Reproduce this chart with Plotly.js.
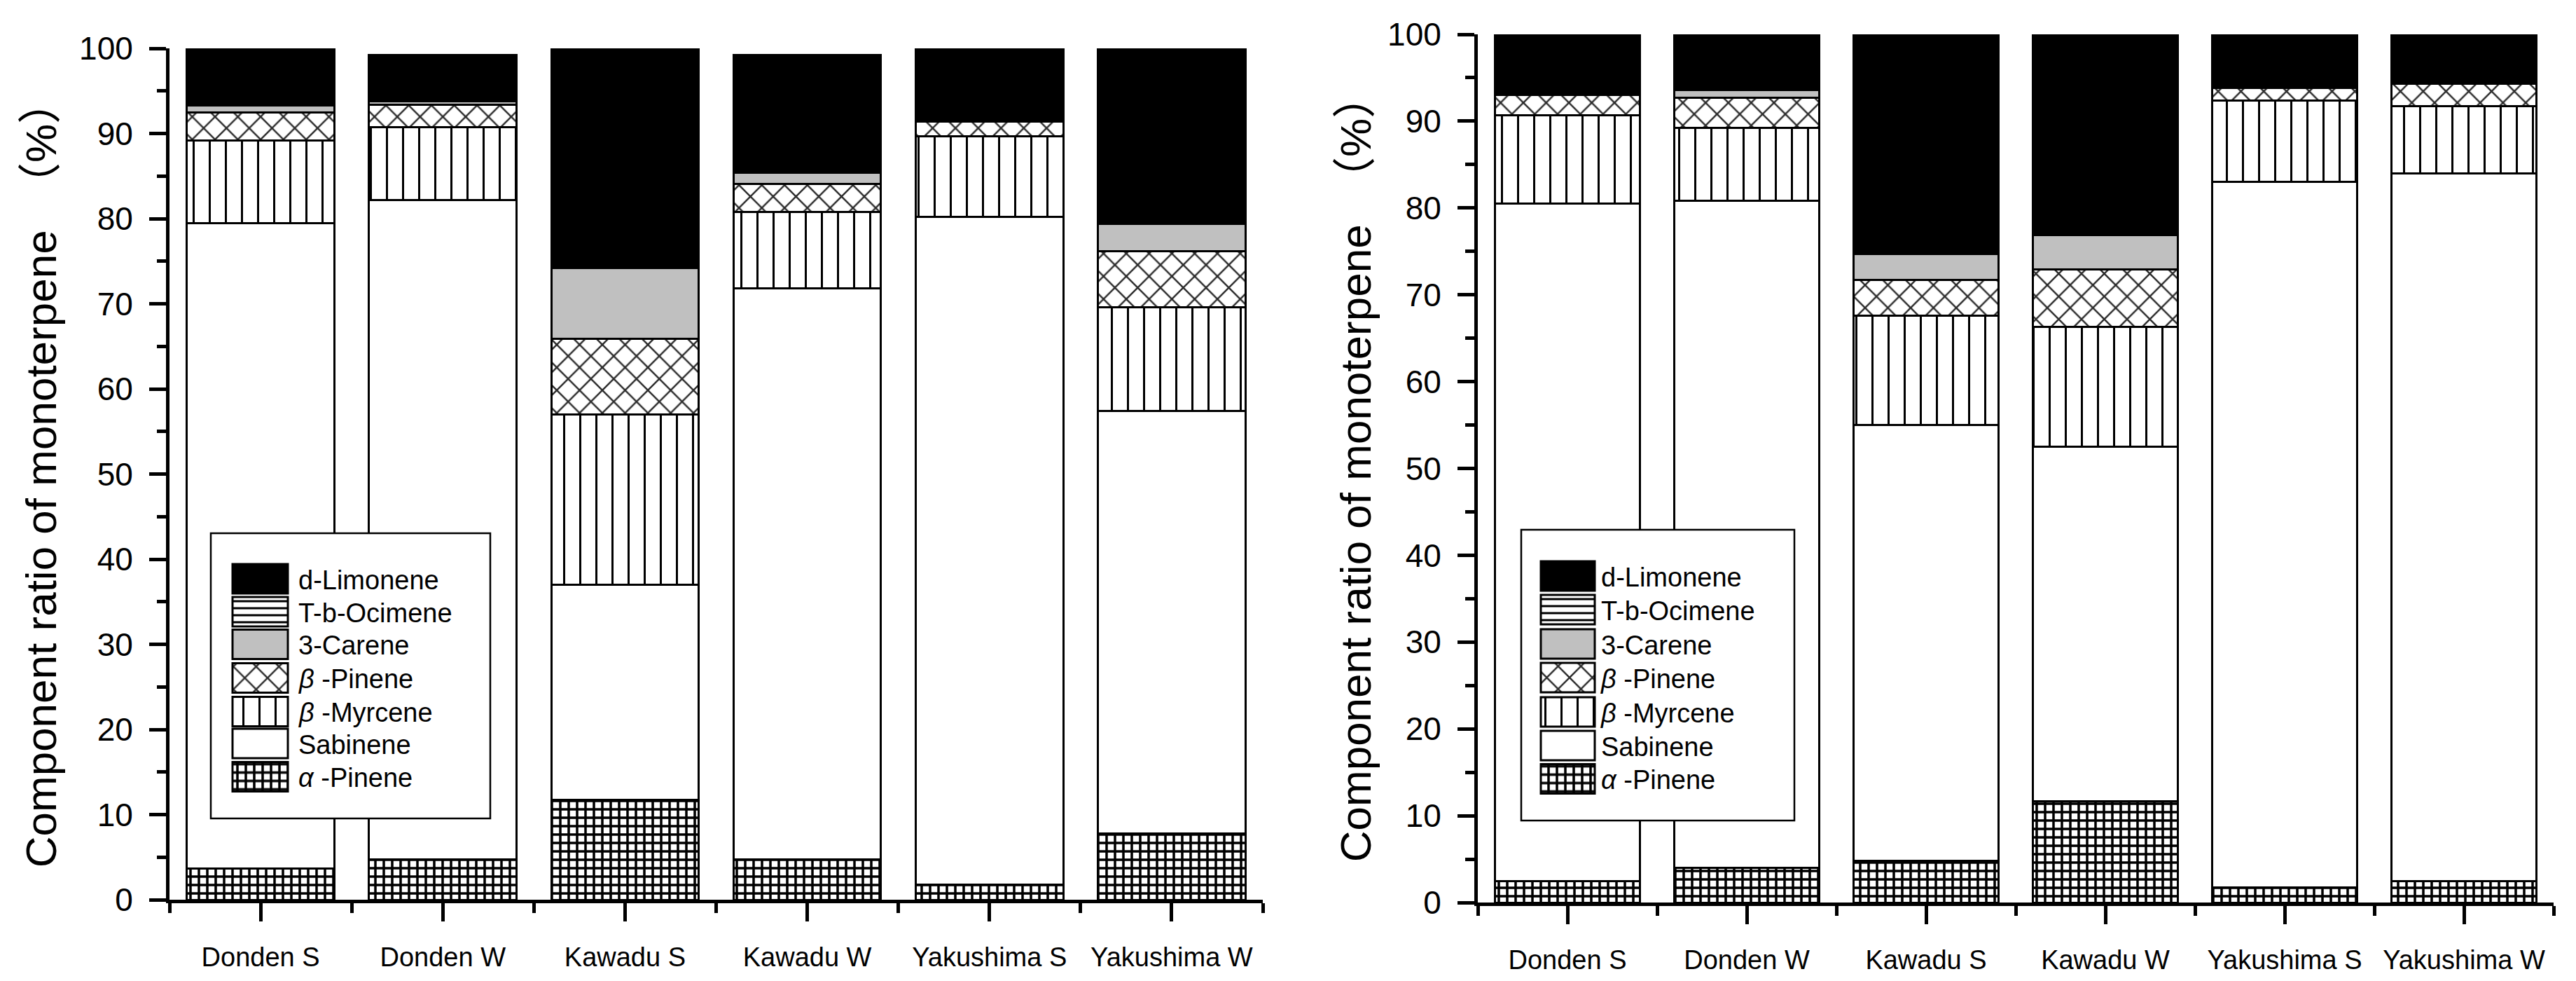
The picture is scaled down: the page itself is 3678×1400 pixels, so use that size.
<!DOCTYPE html>
<html>
<head>
<meta charset="utf-8">
<script src="https://cdn.plot.ly/plotly-3.0.1.min.js"></script>
<style>
  html, body { margin: 0; padding: 0; background: #ffffff; }
  #plot { width: 3678px; height: 1400px; }
</style>
</head>
<body>
<div id="plot"></div>
<script>
// ---------- data ----------
const categories = ['Donden S', 'Donden W', 'Kawadu S', 'Kawadu W', 'Yakushima S', 'Yakushima W'];
const seriesNames = ['<i>α</i> -Pinene', 'Sabinene', '<i>β</i> -Myrcene', '<i>β</i> -Pinene', '3-Carene', 'T-b-Ocimene', 'd-Limonene'];

// left panel
const aPineneA  = [3.7, 4.7, 11.7, 4.7, 1.8, 7.8];
const sabineneA = [75.8, 77.5, 25.3, 67.1, 78.4, 49.6];
const myrceneA  = [9.7, 8.5, 20.0, 9.0, 9.5, 12.2];
const bPineneA  = [3.3, 2.7, 8.9, 3.3, 1.7, 6.6];
const careneA   = [0.8, 0.4, 8.3, 1.3, 0.0, 3.2];
const ocimeneA  = [0, 0, 0, 0, 0, 0];
const limoneneA = [6.7, 5.4, 25.8, 13.8, 8.6, 20.6];

// right panel
const aPineneB  = [2.5, 4.0, 4.8, 11.7, 1.7, 2.5];
const sabineneB = [78.0, 76.8, 50.2, 40.8, 81.3, 81.5];
const myrceneB  = [10.2, 8.4, 12.6, 13.8, 9.4, 7.7];
const bPineneB  = [2.3, 3.5, 4.1, 6.6, 1.4, 2.6];
const careneB   = [0.3, 0.9, 3.0, 4.0, 0.0, 0.0];
const ocimeneB  = [0, 0, 0, 0, 0, 0];
const limoneneB = [6.7, 6.4, 25.3, 23.1, 6.2, 5.7];

const yTitle = 'Component ratio of monoterpene\u00A0\u00A0（%）';
const yTickVals = [0, 10, 20, 30, 40, 50, 60, 70, 80, 90, 100];

// ---------- styles ----------
const W = 3678, H = 1400;
const NARROW = "'Liberation Sans Narrow', 'Arial Narrow', 'Liberation Sans', Arial, sans-serif";
const SANS = "'Liberation Sans', Arial, 'Noto Sans CJK JP', sans-serif";

const styles = [
  { color: '#ffffff', pattern: { shape: '+', size: 12, solidity: 0.5, fgcolor: '#000000', bgcolor: '#ffffff' } },
  { color: '#ffffff' },
  { color: '#ffffff', pattern: { shape: '|', size: 23, solidity: 0.13, fgcolor: '#000000', bgcolor: '#ffffff' } },
  { color: '#ffffff', pattern: { shape: 'x', size: 23, solidity: 0.2, fgcolor: '#2a2a2a', bgcolor: '#ffffff' } },
  { color: '#c0c0c0' },
  { color: '#ffffff', pattern: { shape: '-', size: 10, solidity: 0.3, fgcolor: '#000000', bgcolor: '#ffffff' } },
  { color: '#000000' }
];

const xIdx = categories.map((c, i) => i);

function makeTraces(seriesList, xa, ya, legendId) {
  return seriesList.map((vals, k) => {
    const m = { color: styles[k].color, line: { color: '#000000', width: 3 } };
    if (styles[k].pattern) m.pattern = styles[k].pattern;
    return {
      type: 'bar', x: xIdx, y: vals, name: seriesNames[k],
      xaxis: xa, yaxis: ya, legend: legendId,
      width: 0.81, marker: m, hoverinfo: 'skip'
    };
  });
}

const data = [].concat(
  makeTraces([aPineneA, sabineneA, myrceneA, bPineneA, careneA, ocimeneA, limoneneA], 'x', 'y', 'legend'),
  makeTraces([aPineneB, sabineneB, myrceneB, bPineneB, careneB, ocimeneB, limoneneB], 'x2', 'y2', 'legend2')
);

function xAxis(domain, anchor) {
  return {
    domain: domain, anchor: anchor, range: [-0.5, 5.5], type: 'linear',
    tickvals: xIdx, ticktext: categories, tickangle: 0,
    ticks: 'outside', ticklen: 26, tickwidth: 5, tickcolor: '#000000',
    showline: true, linewidth: 5, linecolor: '#000000',
    showgrid: false, zeroline: false, automargin: false, fixedrange: true,
    tickfont: { family: NARROW, size: 38, color: '#000000' },
    ticklabelstandoff: 18,
    minor: { tick0: -0.5, dtick: 1, ticks: 'outside', ticklen: 14, tickwidth: 5, tickcolor: '#000000', showgrid: false }
  };
}
function yAxis(domain, anchor, standoff) {
  return {
    domain: domain, anchor: anchor, range: [0, 100], type: 'linear',
    tickvals: yTickVals,
    ticks: 'outside', ticklen: 24, tickwidth: 5, tickcolor: '#000000',
    showline: true, linewidth: 5, linecolor: '#000000',
    showgrid: false, zeroline: false, automargin: false, fixedrange: true,
    tickfont: { family: NARROW, size: 46, color: '#000000' },
    ticklabelstandoff: 14,
    minor: { tick0: 0, dtick: 5, ticks: 'outside', ticklen: 13, tickwidth: 5, tickcolor: '#000000', showgrid: false },
    title: { text: yTitle, font: { family: SANS, size: 62, color: '#000000' }, standoff: standoff }
  };
}

const legendFont = { family: SANS, size: 38, color: '#000000' };
const layout = {
  width: W, height: H, autosize: false,
  margin: { l: 0, r: 0, t: 0, b: 0, pad: 0 },
  paper_bgcolor: '#ffffff', plot_bgcolor: '#ffffff',
  barmode: 'stack', showlegend: true,
  xaxis: xAxis([242 / W, 1803 / W], 'y'),
  yaxis: yAxis([1 - 1284 / H, 1 - 69 / H], 'x', 14),
  xaxis2: xAxis([2110 / W, 3646 / W], 'y2'),
  yaxis2: yAxis([1 - 1288 / H, 1 - 49 / H], 'x2', 5),
  legend: {
    x: 320 / W, xanchor: 'left', y: 1 - 790 / H, yanchor: 'top',
    traceorder: 'reversed', font: legendFont, bgcolor: 'rgba(0,0,0,0)', borderwidth: 0, itemwidth: 80
  },
  legend2: {
    x: 2190 / W, xanchor: 'left', y: 1 - 790 / H, yanchor: 'top',
    traceorder: 'reversed', font: legendFont, bgcolor: 'rgba(0,0,0,0)', borderwidth: 0, itemwidth: 80
  },
  shapes: [
    { type: 'rect', xref: 'paper', yref: 'paper', layer: 'above',
      x0: 301 / W, x1: 700 / W, y0: 1 - 1168 / H, y1: 1 - 761 / H,
      line: { color: '#000000', width: 2.5 }, fillcolor: '#ffffff' },
    { type: 'rect', xref: 'paper', yref: 'paper', layer: 'above',
      x0: 2172 / W, x1: 2562 / W, y0: 1 - 1171 / H, y1: 1 - 756 / H,
      line: { color: '#000000', width: 2.5 }, fillcolor: '#ffffff' }
  ]
};

const gd = document.getElementById('plot');

function fixLegends() {
  const fills = {};
  gd.querySelectorAll('g.trace.bars').forEach(g => {
    const d = g.__data__;
    const tr = d && d[0] && d[0].trace;
    const p = g.querySelector('path');
    if (tr && p) fills[tr.uid] = p.style.fill || p.getAttribute('fill');
  });
  const specs = [
    { cls: 'legend', textX: 426, swCx: 371.5, rows: [826, 873, 919.5, 967.5, 1015.5, 1061, 1108.5], w: 79, h: 42 },
    { cls: 'legend2', textX: 2296, swCx: 2238.5, rows: [822, 870, 919, 967, 1016, 1064, 1111.5], w: 77, h: 42 }
  ];
  specs.forEach(s => {
    const lg = gd.querySelector('g.' + s.cls);
    if (!lg) return;
    lg.querySelectorAll('[clip-path]').forEach(e => e.removeAttribute('clip-path'));
    const items = Array.from(lg.querySelectorAll('g.traces'));
    items.sort((a, b) => a.getBoundingClientRect().top - b.getBoundingClientRect().top);
    items.forEach((it, i) => {
      const row = s.rows[i];
      if (row === undefined) return;
      const txt = it.querySelector('text.legendtext');
      const ctm = it.getScreenCTM();
      const tl = txt ? txt.getBoundingClientRect().left : ctm.e + 100;
      const dx = s.textX - tl;
      const dy = row - ctm.f;
      const tf = it.getAttribute('transform') || '';
      const m = tf.match(/translate\(\s*([-\d.eE]+)[ ,]+([-\d.eE]+)\s*\)/);
      let tx = 0, ty = 0;
      if (m) { tx = parseFloat(m[1]); ty = parseFloat(m[2]); }
      it.setAttribute('transform', 'translate(' + (tx + dx) + ',' + (ty + dy) + ')');
      const dd = it.__data__;
      const tr = (dd && dd[0] && dd[0].trace) || (dd && dd[0] && dd[0][0] && dd[0][0].trace);
      it.querySelectorAll('g.legendpoints path').forEach(p => {
        const pc = p.getScreenCTM();
        const cx = s.swCx - pc.e, cy = row - pc.f;
        const x0 = cx - s.w / 2, x1 = cx + s.w / 2, y0 = cy - s.h / 2, y1 = cy + s.h / 2;
        p.setAttribute('d', 'M' + x0 + ',' + y0 + 'H' + x1 + 'V' + y1 + 'H' + x0 + 'Z');
        if (tr && fills[tr.uid]) p.style.fill = fills[tr.uid];
        p.style.stroke = '#000000';
        p.style.strokeWidth = '3px';
        p.style.strokeOpacity = '1';
      });
    });
  });
}

Plotly.newPlot(gd, data, layout, { staticPlot: true, displayModeBar: false }).then(fixLegends);
</script>
</body>
</html>
